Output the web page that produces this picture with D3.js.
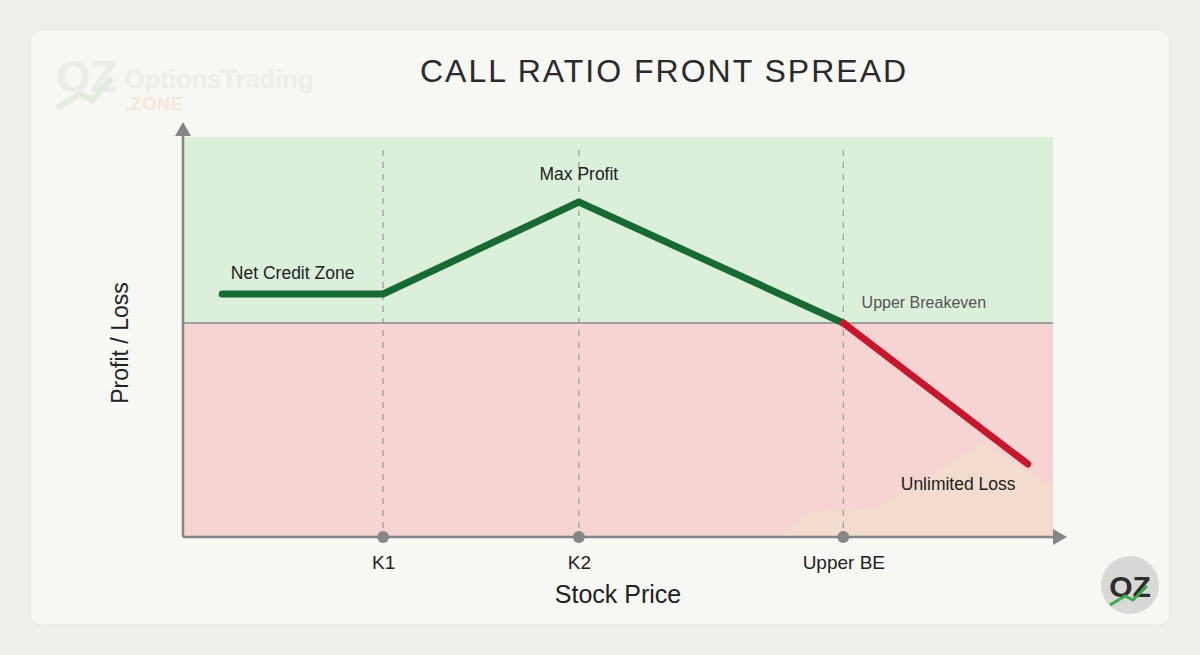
<!DOCTYPE html>
<html><head><meta charset="utf-8">
<script src="https://cdn.jsdelivr.net/npm/d3@7/dist/d3.min.js"></script>
<style>
html,body{margin:0;padding:0;background:#f0f0eb;}
svg{display:block;font-family:"Liberation Sans",Arial,sans-serif;}
</style></head><body>
<svg id="c" width="1200" height="655"></svg>
<script>
// ---- data ----
const title = "CALL RATIO FRONT SPREAD";
const strikeLabels = ["K1", "K2", "Upper BE"];
const strikePrices = [23, 45.5, 75.9];
const payoffPrice = [4.5, 23, 45.5, 75.9];
const payoffValue = [14.5, 14.5, 60.5, 0];
const lossPrice = [75.9, 97.1];
const lossValue = [0, -70.5];
const lossAreaPrice = [68.6, 72.1, 79.8, 81.6, 92, 100, 100];
const lossAreaValue = [-107, -94.5, -92.5, -87.5, -60, -82, -107];
const xLabel = "Stock Price";
const yLabel = "Profit / Loss";

const svg = d3.select("#c");
// card
svg.append("rect").attr("x",30).attr("y",30).attr("width",1140).attr("height",595).attr("rx",12)
  .attr("fill","#f7f7f3").attr("stroke","#e6e6e0");

const x = d3.scaleLinear().domain([0,100]).range([183,1053]);
const y = d3.scaleLinear().domain([-107,93]).range([537,137]);

// zones
svg.append("rect").attr("x",x(0)).attr("y",y(93)).attr("width",x(100)-x(0)).attr("height",y(0)-y(93)).attr("fill","#dcefdb");
svg.append("rect").attr("x",x(0)).attr("y",y(0)).attr("width",x(100)-x(0)).attr("height",y(-107)-y(0)).attr("fill","#f5d4d3");
// loss area
svg.append("path").datum(d3.range(lossAreaPrice.length))
  .attr("d", d3.line().x(i=>x(lossAreaPrice[i])).y(i=>y(lossAreaValue[i])))
  .attr("fill","#f2dccb").attr("opacity",0.85);

// zero line
svg.append("line").attr("x1",x(0)).attr("x2",x(100)).attr("y1",y(0)).attr("y2",y(0)).attr("stroke","#8a8a8a").attr("stroke-width",1.5);

// dashed lines
svg.selectAll(".dash").data(strikePrices).enter().append("line")
  .attr("x1",d=>x(d)).attr("x2",d=>x(d)).attr("y1",y(86.5)).attr("y2",y(-107))
  .attr("stroke","#9a9a9a").attr("stroke-width",1.2).attr("stroke-dasharray","6,6");

// axes
const axisCol="#858585";
svg.append("line").attr("x1",x(0)).attr("x2",x(0)).attr("y1",135).attr("y2",y(-107)).attr("stroke",axisCol).attr("stroke-width",2.5);
svg.append("path").attr("d",`M${x(0)},122 L${x(0)-8},136 L${x(0)+8},136 Z`).attr("fill",axisCol);
svg.append("line").attr("x1",x(0)).attr("x2",1055).attr("y1",y(-107)).attr("y2",y(-107)).attr("stroke",axisCol).attr("stroke-width",2.5);
svg.append("path").attr("d",`M1067,${y(-107)} L1053,${y(-107)-8} L1053,${y(-107)+8} Z`).attr("fill",axisCol);

// tick dots & labels via axis
const xAxis = d3.axisBottom(x).tickValues(strikePrices).tickFormat((d,i)=>strikeLabels[i]).tickSize(0).tickPadding(18);
const gx = svg.append("g").attr("transform",`translate(0,${y(-107)})`).call(xAxis);
gx.select(".domain").remove();
gx.selectAll("text").attr("font-size",19).attr("fill","#222").attr("dy",null).attr("y",32)
  .attr("font-family","'Liberation Sans',Arial,sans-serif");
svg.selectAll(".tdot").data(strikePrices).enter().append("circle")
  .attr("cx",d=>x(d)).attr("cy",y(-107)).attr("r",6).attr("fill","#868686");

// payoff lines
const line = d3.line().x(d=>x(d[0])).y(d=>y(d[1]));
svg.append("path").attr("d", line(payoffPrice.map((p,i)=>[p,payoffValue[i]])))
  .attr("fill","none").attr("stroke","#176b32").attr("stroke-width",7).attr("stroke-linecap","round").attr("stroke-linejoin","round");
svg.append("path").attr("d", line(lossPrice.map((p,i)=>[p,lossValue[i]])))
  .attr("fill","none").attr("stroke","#c8162a").attr("stroke-width",7).attr("stroke-linecap","round");

// annotations
const ann = (t,xx,yy,opt={})=>svg.append("text").attr("x",xx).attr("y",yy).text(t)
  .attr("font-size",opt.size||17.5).attr("fill",opt.fill||"#222").attr("text-anchor",opt.anchor||"start");
ann("Net Credit Zone", x(5.5), y(22));
ann("Max Profit", x(45.5), y(71.5), {anchor:"middle"});
ann("Upper Breakeven", x(78), y(7.5), {size:16, fill:"#555"});
ann("Unlimited Loss", x(82.5), y(-83.5));

// titles
svg.append("text").attr("x",664).attr("y",82).attr("text-anchor","middle").attr("font-size",32)
  .attr("letter-spacing",2).attr("fill","#2a2a2a").text(title);
svg.append("text").attr("x",618).attr("y",603).attr("text-anchor","middle").attr("font-size",25).attr("fill","#222").text(xLabel);
svg.append("text").attr("transform","translate(128,343) rotate(-90)").attr("text-anchor","middle").attr("font-size",23).attr("fill","#222").text(yLabel);

// watermark logo (top-left)
const wm = svg.append("g").attr("opacity",0.55);
wm.append("text").attr("x",56).attr("y",92).attr("font-size",44).attr("font-weight","bold").attr("fill","#e3e3df").text("OZ");
wm.append("path").attr("d","M57,108 L80,94 L92,100 L112,78").attr("fill","none").attr("stroke","#cfe6cf").attr("stroke-width",6);
wm.append("text").attr("x",125).attr("y",88).attr("font-size",25.5).attr("font-weight","bold").attr("fill","#e6e6e2").text("OptionsTrading");
wm.append("text").attr("x",125).attr("y",110).attr("font-size",19).attr("font-weight","bold").attr("fill","#f6d9c6").text(".ZONE");

// bottom-right logo
const lg = svg.append("g");
lg.append("circle").attr("cx",1130).attr("cy",585).attr("r",29).attr("fill","#d8d8d6");
lg.append("text").attr("x",1130).attr("y",597).attr("text-anchor","middle").attr("font-size",30).attr("font-weight","bold").attr("fill","#2d2d2d").text("OZ");
lg.append("path").attr("d","M1110,605 L1125,596 L1133,600 L1147,586").attr("fill","none").attr("stroke","#3bab4e").attr("stroke-width",3);
</script>
</body></html>
